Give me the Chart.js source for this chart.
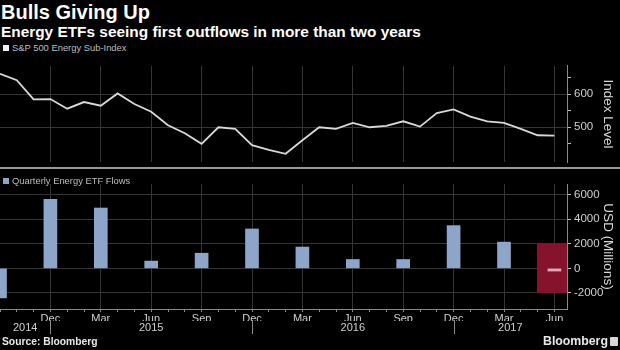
<!DOCTYPE html>
<html><head><meta charset="utf-8">
<script src="https://cdn.jsdelivr.net/npm/chart.js@4.4.1/dist/chart.umd.min.js"></script>
<style>
html,body{margin:0;padding:0;background:#000;}
#wrap{position:relative;width:620px;height:350px;background:#000;overflow:hidden;font-family:'Liberation Sans',Arial,sans-serif;}
.t{position:absolute;white-space:nowrap;color:#fff;}
#title{left:1px;top:1px;font-size:20px;font-weight:bold;}
#sub{left:1px;top:23px;font-size:15.4px;font-weight:bold;}
.leg{position:absolute;left:3px;font-size:9.4px;color:#bdbdbd;white-space:nowrap;}
.leg i{display:inline-block;width:6px;height:6px;margin-right:3px;vertical-align:0px;}
#c1{position:absolute;left:0;top:56px;}
#c2{position:absolute;left:0;top:172px;}
#sep{position:absolute;left:0;top:167px;width:620px;height:2px;background:#9a9a9a;}
#src{left:2px;top:336px;font-size:10.3px;font-weight:bold;color:#e8e8e8;}
#bb{left:543px;top:334px;font-size:12.3px;font-weight:bold;color:#e8e8e8;}
#logo{position:absolute;left:610px;top:337px;width:8px;height:9px;background:#d8d8d8;border-radius:1px;}
</style></head><body>
<div id="wrap">
  <div class="t" id="title">Bulls Giving Up</div>
  <div class="t" id="sub">Energy ETFs seeing first outflows in more than two years</div>
  <div class="leg" style="top:42px"><i style="background:#f0f0f0"></i>S&amp;P 500 Energy Sub-Index</div>
  <canvas id="c1" width="620" height="116"></canvas>
  <div id="sep"></div>
  <div class="leg" style="top:175px"><i style="background:#8da5c9"></i>Quarterly Energy ETF Flows</div>
  <canvas id="c2" width="620" height="178"></canvas>
  <div class="t" id="src">Source: Bloomberg</div>
  <div class="t" id="bb">Bloomberg</div>
  <div id="logo"></div>
</div>
<script>
// ---- data ----
const MONTHS = ['Sep 2014','Oct 2014','Nov 2014','Dec 2014','Jan 2015','Feb 2015','Mar 2015','Apr 2015','May 2015','Jun 2015','Jul 2015','Aug 2015','Sep 2015','Oct 2015','Nov 2015','Dec 2015','Jan 2016','Feb 2016','Mar 2016','Apr 2016','May 2016','Jun 2016','Jul 2016','Aug 2016','Sep 2016','Oct 2016','Nov 2016','Dec 2016','Jan 2017','Feb 2017','Mar 2017','Apr 2017','May 2017','Jun 2017'];
const INDEX_LEVEL = [661,642,584,585,556,576,565,602,570,547,506,482,450,500,495,446,432,420,461,500,495,513,500,504,518,502,543,554,532,518,513,495,476,475];
const QUARTERS = ['Sep 2014','Dec 2014','Mar 2015','Jun 2015','Sep 2015','Dec 2015','Mar 2016','Jun 2016','Sep 2016','Dec 2016','Mar 2017','Jun 2017'];
const FLOWS = [-2400,5600,4900,590,1230,3200,1730,720,720,3470,2130,-220];
const X_TICK_LABELS = ['Dec','Mar','Jun','Sep','Dec','Mar','Jun','Sep','Dec','Mar','Jun'];
const YEAR_LABELS = ['2014','2015','2016','2017'];
const TOP_TICKS = [450,500,550,600,650];
const TOP_LABELED = [500,600];
const FLOW_TICKS = [-2000,0,2000,4000,6000];
const HIGHLIGHT_RANGE = [-2000,2000];

// ---- derived ----
const X_MIN = 0, X_MAX = 33.75;
const quarterMonth = QUARTERS.map(q => MONTHS.indexOf(q));
const monthLabel = {};
QUARTERS.slice(1).forEach((q,i) => { monthLabel[MONTHS.indexOf(q)] = X_TICK_LABELS[i]; });
const yearSeps = MONTHS.map((m,i)=> m.startsWith('Dec') ? i : -1).filter(i=>i>=0);
const bounds = [X_MIN, ...yearSeps, X_MAX];
const yearPos = YEAR_LABELS.map((_,i)=> (bounds[i]+bounds[i+1])/2);
const lastQ = quarterMonth[quarterMonth.length-1];
const highlightCenter = ((lastQ-1) + X_MAX)/2;

const GRID = '#353535';
const TICKCOL = '#d0d0d0';
const FONT = {family:"'Liberation Sans', Arial, sans-serif", size:11};
const vGrid = ctx => (ctx.tick && ctx.tick.value > 0 && ctx.tick.value % 3 === 0) ? GRID : 'rgba(0,0,0,0)';

Chart.defaults.font.family = "'Liberation Sans', Arial, sans-serif";

new Chart(document.getElementById('c1'), {
  type: 'line',
  data: { datasets: [{
    data: INDEX_LEVEL.map((v,i)=>({x:i, y:v})),
    borderColor: '#d9d9d9', borderWidth: 1.8, pointRadius: 0, tension: 0
  }]},
  options: {
    responsive:false, animation:false, devicePixelRatio:1,
    layout:{padding:{top:5,bottom:4,left:0,right:0}},
    plugins:{legend:{display:false}, tooltip:{enabled:false}},
    scales:{
      x:{type:'linear', min:X_MIN, max:X_MAX, offset:false,
        afterBuildTicks: s => { s.ticks = MONTHS.map((_,i)=>({value:i})); },
        ticks:{display:false}, grid:{drawTicks:false, color:vGrid}, border:{display:false},
        afterFit: s => { s.height = 0; }},
      y:{position:'right', min:395, max:685,
        afterBuildTicks: s => { s.ticks = TOP_TICKS.map(v=>({value:v})); },
        ticks:{callback: v => TOP_LABELED.includes(v) ? String(v) : '', color:TICKCOL, font:{size:11.5}, padding:3},
        grid:{color: ctx => (ctx.tick && TOP_LABELED.includes(ctx.tick.value)) ? GRID : 'rgba(0,0,0,0)', tickColor:'#bbbbbb', tickLength:4},
        border:{color:'#8a8a8a'},
        title:{display:true, text:'Index Level', color:'#d8d8d8', font:{size:13.5}, padding:{top:4,bottom:4}},
        afterFit: s => { s.width = 53; }}
    }
  }
});

const yearSepPlugin = {
  id:'yearSep',
  afterDraw(chart){
    const xs = chart.scales.x, c = chart.ctx;
    c.save(); c.strokeStyle = '#8a8a8a'; c.lineWidth = 1;
    yearSeps.forEach(m => {
      const px = Math.round(xs.getPixelForValue(m)) + 0.5;
      c.beginPath(); c.moveTo(px, xs.top + 11); c.lineTo(px, xs.top + 25); c.stroke();
    });
    c.restore();
  }
};

new Chart(document.getElementById('c2'), {
  type: 'bar',
  data: { datasets: [
    { data: FLOWS.map((v,i)=>({x:quarterMonth[i], y:v})),
      backgroundColor: ctx => ctx.dataIndex === FLOWS.length-1 ? '#dba9bb' : '#8da5c9',
      barThickness:13, grouped:false, order:1 },
    { data: [{x:highlightCenter, y:HIGHLIGHT_RANGE}],
      backgroundColor:'#86132c', barThickness:30, grouped:false, order:2 }
  ]},
  options: {
    responsive:false, animation:false, devicePixelRatio:1,
    layout:{padding:{top:12,bottom:0,left:0,right:0}},
    plugins:{legend:{display:false}, tooltip:{enabled:false}},
    scales:{
      x:{type:'linear', min:X_MIN, max:X_MAX, offset:false, weight:0,
        afterBuildTicks: s => { s.ticks = MONTHS.map((_,i)=>({value:i})); },
        ticks:{autoSkip:false, maxRotation:0, minRotation:0, padding:0, color:TICKCOL, font:FONT,
          callback:(v,i)=> monthLabel[i] || ''},
        grid:{offset:false, color:vGrid, tickColor:'#8a8a8a', tickLength:3},
        border:{color:'#8a8a8a'},
        afterFit: s => { s.height = 12; }},
      x2:{type:'linear', position:'bottom', min:X_MIN, max:X_MAX, offset:false, weight:1,
        afterBuildTicks: s => { s.ticks = yearPos.map(v=>({value:v})); },
        ticks:{autoSkip:false, maxRotation:0, minRotation:0, padding:0, color:TICKCOL, font:FONT,
          callback:(v,i)=> YEAR_LABELS[i]},
        grid:{display:false, drawTicks:false, tickLength:0}, border:{display:false},
        afterFit: s => { s.height = 29; }},
      y:{position:'right', min:-3300, max:6850,
        afterBuildTicks: s => { s.ticks = FLOW_TICKS.map(v=>({value:v})); },
        ticks:{callback: v => String(v), color:TICKCOL, font:{size:11.5}, padding:3},
        grid:{color:GRID, tickColor:'#bbbbbb', tickLength:4},
        border:{color:'#8a8a8a'},
        title:{display:true, text:'USD (Millions)', color:'#d8d8d8', font:{size:13.5}, padding:{top:4,bottom:4}},
        afterFit: s => { s.width = 53; }}
    }
  },
  plugins:[yearSepPlugin]
});
</script>
</body></html>
